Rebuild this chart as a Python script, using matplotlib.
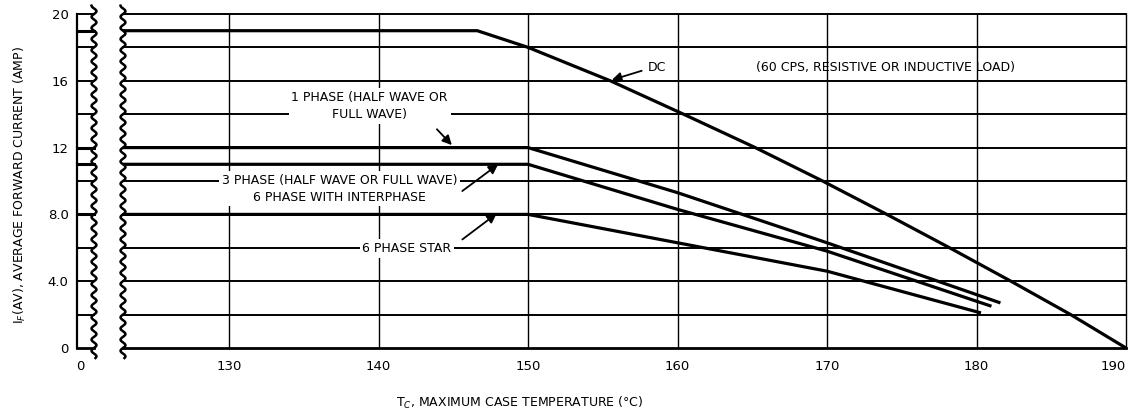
import numpy as np
import matplotlib
matplotlib.use('Agg')
import matplotlib.pyplot as plt

# curve data (temperature degC, current A)
dc_t = [122.9, 146.6, 150.0, 155.5, 160.4, 165.2, 169.7, 174.0, 178.2, 182.3, 186.3, 190.0]
dc_i = [19.0, 19.0, 18.0, 16.0, 14.0, 12.0, 10.0, 8.0, 6.0, 4.0, 2.0, 0.0]

ph1_t = [122.9, 150.0, 160.0, 170.0, 181.6]
ph1_i = [12.0, 12.0, 9.3, 6.3, 2.7]

ph3_t = [122.9, 150.0, 160.0, 170.0, 181.0]
ph3_i = [11.0, 11.0, 8.3, 5.8, 2.5]

star_t = [122.9, 150.0, 160.0, 170.0, 180.3]
star_i = [8.0, 8.0, 6.3, 4.6, 2.1]

curves = [(dc_t, dc_i), (ph1_t, ph1_i), (ph3_t, ph3_i), (star_t, star_i)]

grid_y = [0, 2, 4, 6, 8, 10, 12, 14, 16, 18, 20]
grid_x = [130, 140, 150, 160, 170, 180, 190]
ytick_vals = [0, 4, 8, 12, 16, 20]
ytick_labels = ['0', '4.0', '8.0', '12', '16', '20']

fig = plt.figure(figsize=(11.33, 4.13), dpi=100)
W, H = 1133, 413
bottom = (413 - 348) / H
height = (348 - 14) / H

ax = fig.add_axes([123 / W, bottom, (1126 - 123) / W, height])
axl = fig.add_axes([77 / W, bottom, (94 - 77) / W, height])

# main panel
ax.set_xlim(122.9, 190)
ax.set_ylim(0, 20)
for y in grid_y:
    ax.axhline(y, color='black', lw=1.4 if y > 0 else 2.0, clip_on=False, zorder=1)
for x in grid_x:
    ax.axvline(x, color='black', lw=1.0, clip_on=False, zorder=1)
for t, i in curves:
    ax.plot(t, i, color='black', lw=2.3, solid_capstyle='butt', clip_on=False, zorder=3)
for s in ax.spines.values():
    s.set_visible(False)
ax.set_xticks(grid_x)
ax.set_xticklabels([str(x) for x in grid_x], fontsize=9.5)
ax.get_xticklabels()[-1].set_horizontalalignment('right')
ax.tick_params(axis='x', length=0, pad=9)
ax.set_yticks([])

# left stub panel (0 .. break)
axl.set_xlim(-0.2, 1)
axl.set_ylim(0, 20)
for y in grid_y:
    axl.axhline(y, color='black', lw=1.4 if y > 0 else 2.0, clip_on=False)
for t, i in curves:
    axl.axhline(i[0], color='black', lw=2.2, clip_on=False)
axl.axvline(-0.2, color='black', lw=1.6, clip_on=False)
for s in axl.spines.values():
    s.set_visible(False)
axl.set_xticks([0])
axl.set_xticklabels(['0'], fontsize=9.5)
axl.set_yticks(ytick_vals)
axl.set_yticklabels(ytick_labels, fontsize=9.5)
axl.tick_params(length=0)
axl.tick_params(axis='x', pad=9)
axl.tick_params(axis='y', pad=6)

# break squiggles
yy = np.linspace(-0.03, 1.025, 400)
wave = 0.0022 * np.sin(yy * 2 * np.pi * 30)
for xp in (123, 94):
    fig.lines.append(plt.Line2D(xp / W + wave, bottom + yy * height, color='black', lw=1.8,
                                transform=fig.transFigure))

# annotations
box = dict(facecolor='white', edgecolor='none', pad=2)
fs = 9
arrow = dict(arrowstyle='-|>', color='black', lw=1.3, mutation_scale=14, shrinkA=0, shrinkB=0)

ax.text(158.6, 16.8, 'DC', fontsize=fs, ha='center', va='center')
ax.annotate('', xy=(155.6, 16.05), xytext=(157.6, 16.6), arrowprops=arrow)
ax.text(173.9, 16.8, '(60 CPS, RESISTIVE OR INDUCTIVE LOAD)', fontsize=fs, ha='center', va='center')

ax.text(139.4, 14.5, '1 PHASE (HALF WAVE OR\nFULL WAVE)', fontsize=fs, ha='center', va='center',
        linespacing=1.4, bbox=box)
ax.annotate('', xy=(144.9, 12.15), xytext=(143.9, 13.1), arrowprops=arrow)

ax.text(137.4, 9.55, '3 PHASE (HALF WAVE OR FULL WAVE)\n6 PHASE WITH INTERPHASE', fontsize=fs,
        ha='center', va='center', linespacing=1.4, bbox=box)
ax.annotate('', xy=(148.0, 11.0), xytext=(145.6, 9.4), arrowprops=arrow)

ax.text(141.9, 5.95, '6 PHASE STAR', fontsize=fs, ha='center', va='center', bbox=box)
ax.annotate('', xy=(147.9, 8.05), xytext=(145.6, 6.5), arrowprops=arrow)

fig.text(20 / W, 1 - 185 / H, r'I$_F$(AV), AVERAGE FORWARD CURRENT (AMP)', rotation=90,
         fontsize=9, ha='center', va='center')
fig.text(520 / W, 1 - 403 / H, r'T$_C$, MAXIMUM CASE TEMPERATURE ($\degree$C)', fontsize=9,
         ha='center', va='center')

fig.savefig('out.png', dpi=100)
